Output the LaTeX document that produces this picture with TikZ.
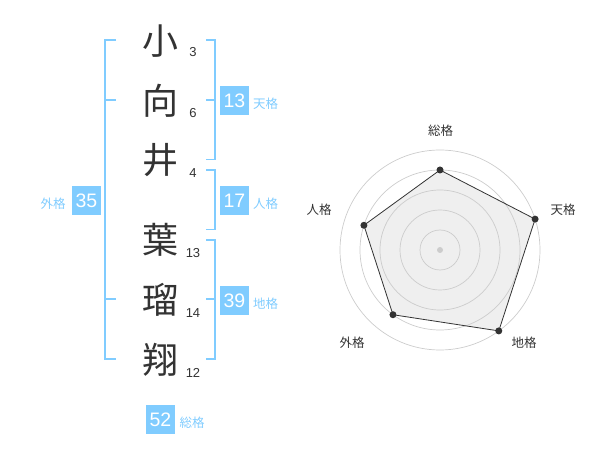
\documentclass[tikz,border=0pt]{standalone}
\usepackage{fontspec}
\setmainfont{Liberation Sans}
\newfontfamily\jp{Noto Sans CJK JP}
\definecolor{kblue}{RGB}{128,204,255}
\definecolor{ink}{RGB}{51,51,51}
\definecolor{ringgray}{RGB}{204,204,204}
\definecolor{areagray}{RGB}{239,239,239}
\tikzset{
  kanji/.style={font=\jp\fontsize{36}{36}\selectfont, text=ink, inner sep=0pt, anchor=center},
  stroke/.style={font=\fontsize{13}{13}\selectfont, text=ink, inner sep=0pt, anchor=center},
  kbox/.style={fill=kblue, text=white, minimum size=29pt, inner sep=0pt, font=\fontsize{19.5}{19.5}\selectfont},
  klabel/.style={font=\jp\fontsize{12.5}{12.5}\selectfont, text=kblue, inner sep=0pt},
  bracket/.style={draw=kblue, line width=1.6pt},
  ring/.style={draw=ringgray, line width=0.7pt},
  rlabel/.style={font=\jp\fontsize{12.5}{12.5}\selectfont, text=ink, inner sep=0pt},
  rdot/.style={circle, fill=ink, inner sep=0pt, minimum size=7pt},
}
\begin{document}
\begin{tikzpicture}[x=1pt,y=-1pt]
\useasboundingbox (0,0) rectangle (600,470);
% kanji
\node[kanji] (k1) at (160,41) {小};
\node[kanji] (k2) at (160,101) {向};
\node[kanji] (k3) at (160,160.5) {井};
\node[kanji] (k4) at (160,240) {葉};
\node[kanji] (k5) at (160,300) {瑠};
\node[kanji] (k6) at (160,360) {翔};
% stroke counts
\node[stroke] (s1) at (193,52.5) {3};
\node[stroke] (s2) at (193,113) {6};
\node[stroke] (s3) at (193,173.5) {4};
\node[stroke] (s4) at (193,253) {13};
\node[stroke] (s5) at (193,313) {14};
\node[stroke] (s6) at (193,373) {12};
% brackets
\coordinate (lt) at (105,40); \coordinate (lb) at (105,359);
\draw[bracket] (116,40) -- (lt) -- (lb) -- (116,359);
\draw[bracket] (105,100) -- (116,100);
\draw[bracket] (105,299) -- (116,299);
\coordinate (tt) at (215,40); \coordinate (tb) at (215,159.5);
\draw[bracket] (206,40) -- (tt) -- (tb) -- (206,159.5);
\draw[bracket] (206,100) -- (215,100);
\coordinate (jt) at (215,170); \coordinate (jb) at (215,229.5);
\draw[bracket] (206,170) -- (jt) -- (jb) -- (206,229.5);
\coordinate (ct) at (215,240); \coordinate (cb) at (215,359);
\draw[bracket] (206,240) -- (ct) -- (cb) -- (206,359);
\draw[bracket] (206,299) -- (215,299);
% boxes and labels
\node[kbox] (b13) at (234.5,100.5) {13};
\node[klabel, anchor=west] (l13) at (253,104) {天格};
\node[kbox] (b17) at (234.5,200.5) {17};
\node[klabel, anchor=west] (l17) at (253,203.5) {人格};
\node[kbox] (b39) at (234.5,300.5) {39};
\node[klabel, anchor=west] (l39) at (253,304) {地格};
\node[kbox] (b35) at (86.5,200.5) {35};
\node[klabel] (l35) at (53,203.5) {外格};
\node[kbox] (b52) at (160.5,419.5) {52};
\node[klabel] (l52) at (192,422.5) {総格};
% radar
\coordinate (c) at (440,250);
\path[fill=areagray] ({440+80*cos(90)},{250-80*sin(90)}) -- ({440+100*cos(18)},{250-100*sin(18)}) -- ({440+100*cos(-54)},{250-100*sin(-54)}) -- ({440+80*cos(-126)},{250-80*sin(-126)}) -- ({440+80*cos(162)},{250-80*sin(162)}) -- cycle;
\foreach \r in {20,40,60,80,100} \draw[ring] (c) circle[radius=\r];
\node[circle, fill=ringgray, inner sep=0pt, minimum size=6pt] (cd) at (c) {};
\node[rdot] (p1) at ({440+80*cos(90)},{250-80*sin(90)}) {};
\node[rdot] (p2) at ({440+100*cos(18)},{250-100*sin(18)}) {};
\node[rdot] (p3) at ({440+100*cos(-54)},{250-100*sin(-54)}) {};
\node[rdot] (p4) at ({440+80*cos(-126)},{250-80*sin(-126)}) {};
\node[rdot] (p5) at ({440+80*cos(162)},{250-80*sin(162)}) {};
\draw[ink, line width=0.8pt] (p1.center) -- (p2.center) -- (p3.center) -- (p4.center) -- (p5.center) -- cycle;
\node[rlabel] (r1) at (440.5,131) {総格};
\node[rlabel] (r2) at (563,209.5) {天格};
\node[rlabel] (r3) at (524,342.5) {地格};
\node[rlabel] (r4) at (352,342.5) {外格};
\node[rlabel] (r5) at (319,209.5) {人格};
\end{tikzpicture}
\end{document}
